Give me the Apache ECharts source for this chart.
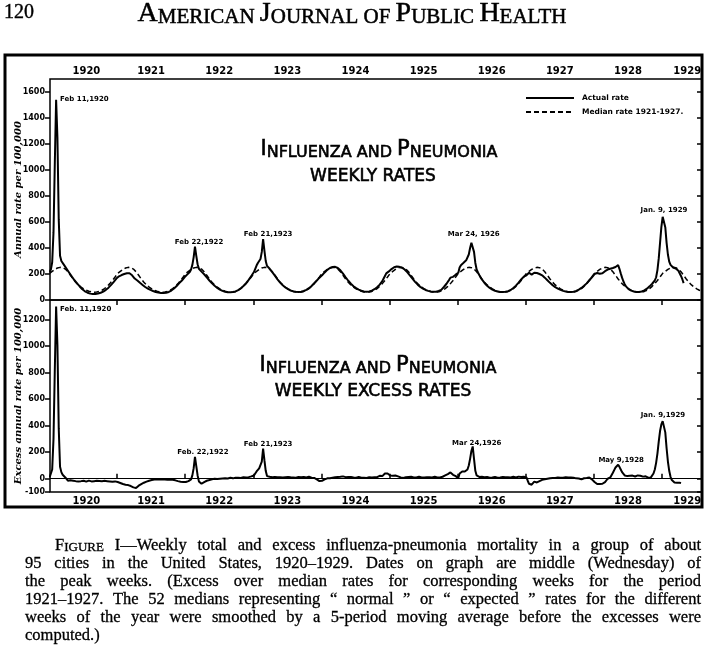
<!DOCTYPE html>
<html><head><meta charset="utf-8">
<script src="https://cdn.jsdelivr.net/npm/echarts@6/dist/echarts.min.js"></script>
<style>html,body{margin:0;padding:0;background:#fff}#c{width:709px;height:646px}</style>
</head><body><div id="c"></div>
<script>
// ---------------- DATA ----------------
const years = [1920,1921,1922,1923,1924,1925,1926,1927,1928,1929];
const yearTicks = [1921,1922,1923,1924,1925,1926,1927,1928,1929];
const yearLabelValues = [1920.55,1921.5,1922.5,1923.5,1924.5,1925.5,1926.5,1927.5,1928.5,1929.37];
const topTickValues = [0,200,400,600,800,1000,1200,1400,1600];
const bottomTickValues = [-100,0,200,400,600,800,1000,1200];

// 52 smoothed weekly medians 1921-1927 (repeated every year)
const medianRate = [205,212,220,228,235,241,246,249,251,251,249,245,238,228,217,204,190,176,162,149,137,126,116,107,99,92,86,80,75,71,67,64,62,61,60,60,61,63,66,70,75,81,88,96,105,115,126,138,150,163,177,191];
const medianWeeks1929 = 31;

// weekly actual rates
const actual1920 = [215,235,290,520,1050,1540,1250,620,340,300,285,270,255,240,225,210,195,180,165,152,140,128,116,104,93,83,74,67,61,56,52,49,47,46,46,47,48,50,53,56,60,65,71,78,86,95,105,116,128,140,152,165];
const actual1921 = [175,182,188,192,196,200,203,206,208,206,200,190,178,165,158,150,140,132,124,116,108,100,94,88,83,78,73,69,65,62,59,57,55,54,53,53,54,56,58,62,67,73,80,88,97,107,118,130,140,150,162,175];
const actual1922 = [185,195,205,215,235,270,330,410,340,275,240,228,218,208,198,186,174,162,150,139,128,118,109,101,93,86,80,75,70,66,63,61,60,59,59,60,61,63,66,70,76,82,90,99,108,118,130,142,155,170,185,200];
const actual1923 = [215,240,265,285,300,315,370,469,380,300,262,250,240,228,215,201,187,173,159,146,134,123,113,104,96,89,83,78,73,69,66,64,63,62,62,63,64,66,69,73,78,84,91,99,108,118,129,140,150,160,172,185];
const actual1924 = [190,200,212,222,232,240,246,250,254,256,255,252,246,238,228,216,203,189,175,161,148,136,125,115,106,98,91,85,80,75,71,68,66,65,64,65,66,68,72,77,83,90,98,107,118,130,145,165,185,205,215,220];
const actual1925 = [228,238,246,252,256,258,257,255,252,248,242,235,226,215,203,190,177,164,151,139,128,118,109,101,94,88,82,77,73,70,67,65,64,63,63,64,66,69,73,78,90,100,112,125,140,155,172,180,178,185,195,200];
const actual1926 = [210,250,268,280,286,295,305,318,350,400,440,449,370,285,235,212,192,174,158,144,131,120,110,101,93,86,80,75,71,68,65,63,62,61,61,62,63,65,68,72,77,84,92,100,110,121,133,146,158,170,180,188];
const actual1927 = [190,200,210,205,195,200,210,212,208,205,200,195,190,182,172,162,152,142,132,123,114,106,99,93,87,82,78,74,70,67,65,63,62,61,61,62,64,66,70,74,80,86,93,100,109,118,128,140,152,165,175,185];
const actual1928 = [200,205,208,205,202,200,205,212,222,230,234,236,240,243,246,250,254,258,268,240,205,172,144,122,105,93,84,77,72,68,65,63,62,61,62,64,66,70,74,80,87,95,105,116,125,135,150,175,230,320,440,560];
const actual1929 = [640,654,560,440,350,295,270,258,250,245,242,235,225,210,185,160,130];

// weekly excess rates
const excess1920 = [10,25,70,300,820,1300,1010,380,90,50,30,20,10,-5,-15,-18,-12,-20,-15,-22,-18,-15,-20,-12,-18,-20,-15,-18,-22,-16,-14,-18,-20,-15,-18,-14,-16,-20,-17,-15,-18,-20,-16,-14,-18,-22,-20,-16,-22,-25,-20,-28];
const excess1921 = [-25,-30,-32,-35,-40,-42,-45,-45,-48,-52,-55,-60,-65,-72,-70,-62,-52,-45,-40,-35,-30,-26,-22,-18,-15,-12,-10,-8,-6,-8,-5,-6,-4,-7,-5,-3,-6,-4,-8,-5,-6,-9,-7,-10,-12,-15,-18,-20,-22,-25,-24,-22];
const excess1922 = [-25,-22,-18,-15,-5,25,80,165,95,25,-20,-35,-38,-32,-25,-20,-15,-12,-10,-6,-4,-2,0,3,-2,2,0,4,2,5,3,6,2,4,7,5,3,6,8,5,7,10,6,8,12,9,10,14,12,15,18,22];
const excess1923 = [25,40,55,70,78,82,130,228,140,60,20,12,15,10,12,8,14,10,12,9,11,14,10,8,12,10,13,9,11,14,10,12,8,11,13,9,12,10,14,11,9,12,15,10,8,12,6,2,-5,-12,-18,-20];
const excess1924 = [-15,-10,-5,0,3,5,4,6,8,10,12,10,14,12,15,12,18,14,12,16,13,10,14,11,9,12,8,10,13,9,7,10,8,11,6,9,12,8,10,14,11,16,12,18,22,16,20,30,40,48,40,30];
const excess1925 = [25,18,22,25,24,22,18,15,10,8,6,10,12,8,14,11,15,12,10,14,9,12,15,11,9,13,10,8,12,9,11,14,10,12,15,11,9,13,10,12,15,20,25,30,35,42,48,45,30,25,20,12];
const excess1926 = [5,40,50,55,52,55,60,70,100,150,210,244,150,60,25,18,14,12,15,10,12,9,13,10,8,12,9,11,14,10,8,12,9,11,13,10,12,8,11,14,10,12,15,11,9,13,16,12,14,18,15,10];
const excess1927 = [10,-15,-38,-52,-45,-30,-22,-20,-28,-25,-18,-12,-8,-6,-4,-2,0,2,4,3,6,8,5,7,9,6,8,10,7,9,12,8,10,7,9,6,8,5,3,6,2,-2,-5,0,4,2,5,8,10,5,-5,-15];
const excess1928 = [-25,-35,-40,-38,-40,-36,-38,-35,-25,-10,0,5,10,25,45,65,85,100,106,90,70,50,35,25,18,20,16,22,18,24,20,17,22,25,19,23,20,16,21,18,12,8,5,10,25,40,70,120,190,280,360,410];
const excess1929 = [435,445,350,230,130,60,15,-10,-22,-28,-32,-30,-26,-30,-33];

// peak annotations
const topPeakYears = [1920,1922,1923,1926,1929];
const topPeakWeeks = [5,7,7,11,1];
const topPeakTexts = ['Feb 11,1920','Feb 22,1922','Feb 21,1923','Mar 24, 1926','Jan. 9, 1929'];
const bottomPeakYears = [1920,1922,1923,1926,1928,1929];
const bottomPeakWeeks = [5,7,7,11,18,1];
const bottomPeakTexts = ['Feb. 11,1920','Feb. 22,1922','Feb 21,1923','Mar 24,1926','May 9,1928','Jan. 9,1929'];

const legendNames = ['Actual rate','Median rate 1921-1927.'];
const captionLines = [
 'FIGURE I\u2014Weekly total and excess influenza-pneumonia mortality in a group of about',
 '95 cities in the United States, 1920\u20131929.  Dates on graph are middle (Wednesday) of',
 'the peak weeks.  (Excess over median rates for corresponding weeks for the period',
 '1921\u20131927.  The 52 medians representing \u201c normal \u201d or \u201c expected \u201d rates for the different',
 'weeks of the year were smoothed by a 5-period moving average before the excesses were',
 'computed.)'
];

// ---------------- BUILD ----------------
const actualByYear = [actual1920,actual1921,actual1922,actual1923,actual1924,actual1925,actual1926,actual1927,actual1928,actual1929];
const excessByYear = [excess1920,excess1921,excess1922,excess1923,excess1924,excess1925,excess1926,excess1927,excess1928,excess1929];
function weekTime(y,w){ return y + (w + 0.5) / 52; }
function toPoints(arrs){ const out=[]; arrs.forEach((a,i)=>a.forEach((v,w)=>out.push([weekTime(years[i],w), v]))); return out; }
const actualPoints = toPoints(actualByYear);
const excessPoints = toPoints(excessByYear);
const medianPoints = [];
years.forEach(y=>{ const n = y===1929 ? medianWeeks1929 : 52; for(let w=0;w<n;w++) medianPoints.push([weekTime(y,w), medianRate[w]]); });

const topOffsets = [[2,-1,'right'],[4,1,'top'],[5,1,'top'],[1,-2,'top'],[0,1,'top']];
const bottomOffsets = [[2,3,'right'],[8,1,'top'],[5,1,'top'],[4,2,'top'],[3,1,'top'],[-1,1,'top']];
const annFont = {fontSize:7, fontWeight:'bold', color:'#000', fontFamily:'DejaVu Sans'};
function peakMarks(ys, ws, texts, byYear, offs){
  return ys.map((y,i)=>({
    coord:[weekTime(y, ws[i]), byYear[y-1920][ws[i]]],
    symbol:'circle', symbolSize:0,
    label:Object.assign({show:true, formatter:texts[i], position:offs[i][2], offset:[offs[i][0],offs[i][1]], distance:2}, annFont)
  }));
}

// caption layout (justified)
const mctx = document.createElement('canvas').getContext('2d');
const capFam = '"Liberation Serif", serif';
const capSize = 16.5, capSmall = 13;
function mw(t,s){ mctx.font = s+'px '+capFam; return mctx.measureText(t).width; }
const captionGraphics = [];
const capTop = 546, capLH = 18;
captionLines.forEach((line,li)=>{
  const words = line.split(' ').filter(s=>s.length);
  const left = li===0 ? 55 : 25, right = 701;
  const widths = words.map(w=> w==='FIGURE' ? mw('F',capSize)+mw('IGURE',capSmall) : mw(w,capSize));
  const sum = widths.reduce((a,b)=>a+b,0);
  const last = li===captionLines.length-1;
  const gap = last ? mw(' ',capSize) : (right-left-sum)/(words.length-1);
  let x = left;
  words.forEach((w,wi)=>{
    const el = {type:'text', x:x, y:capTop+li*capLH, style:{fill:'#000', fontFamily:capFam, fontSize:capSize, verticalAlign:'middle', align:'left', stroke:'#000', lineWidth:0.3}};
    if (w==='FIGURE'){
      el.style.text = '{a|F}{b|IGURE}';
      el.style.rich = {a:{fontSize:capSize,fontFamily:capFam,verticalAlign:'bottom',fill:'#000'}, b:{fontSize:capSmall,fontFamily:capFam,verticalAlign:'bottom',fill:'#000'}};
    } else el.style.text = w;
    captionGraphics.push(el);
    x += widths[wi] + gap;
  });
});

const titleRich = {
  b:{fontSize:21, fontFamily:'DejaVu Sans', verticalAlign:'bottom', fill:'#000', stroke:'#000', lineWidth:0.6},
  s:{fontSize:16, fontFamily:'DejaVu Sans', verticalAlign:'bottom', fill:'#000', stroke:'#000', lineWidth:0.6}
};
function titleText(x,y,text,size){
  return {type:'text', x:x, y:y, style:{text:text, rich:titleRich, fontSize:size, fontFamily:'DejaVu Sans', fill:'#000', align:'center', verticalAlign:'middle'}};
}

const chart = echarts.init(document.getElementById('c'), null, {renderer:'canvas'});
const axisBase = {type:'value', splitLine:{show:false}, axisLine:{show:false}};
const xCommon = (gi,pos,margin)=>Object.assign({}, axisBase, {
  gridIndex:gi, position:pos, min:1920.016, max:1929.587,
  axisTick:{show:true, inside:true, length:5, customValues:yearTicks, lineStyle:{color:'#000', width:1.5}},
  axisLabel:{customValues:yearLabelValues, formatter:v=>String(Math.floor(v)), fontSize:10, fontWeight:'bold', fontFamily:'DejaVu Sans', color:'#000', margin:margin}
});
const yCommon = (gi,pos,min,max,ticks,showLabel,name)=>Object.assign({}, axisBase, {
  gridIndex:gi, position:pos, min:min, max:max,
  axisTick:{show:true, inside:pos==='right', length:5, customValues:ticks, lineStyle:{color:'#000', width:1.5}},
  axisLabel:{show:showLabel, customValues:ticks, formatter:v=>String(v), fontSize:8, fontWeight:'bold', fontFamily:'DejaVu Sans', color:'#000', margin:5},
  name:name||'', nameLocation:'middle', nameGap:27, nameRotate:90, nameMoveOverlap:false,
  nameTextStyle:{fontStyle:'italic', fontWeight:'bold', fontFamily:'DejaVu Serif', fontSize:10, color:'#000'}
});

const solidIcon = 'path://M0,0h48v2h-48z';
const dashIcon = 'path://M0,0h5v2h-5z M8,0h5v2h-5z M16,0h5v2h-5z M24,0h5v2h-5z M32,0h5v2h-5z M40,0h5v2h-5z M48,0h0.01v2h-0.01z';

chart.setOption({
  animation:false,
  backgroundColor:'#fff',
  grid:[
    {left:50, top:79, width:652, height:221, show:true, borderColor:'#000', borderWidth:1.5, backgroundColor:'transparent'},
    {left:50, top:300, width:652, height:192, show:true, borderColor:'#000', borderWidth:1.5, backgroundColor:'transparent'}
  ],
  xAxis:[xCommon(0,'top',3), xCommon(1,'bottom',4)],
  yAxis:[
    yCommon(0,'left',0,1700,topTickValues,true,'Annual rate per 100,000'),
    yCommon(0,'right',0,1700,topTickValues,false),
    yCommon(1,'left',-100,1349,bottomTickValues,true,'Excess annual rate per 100,000'),
    yCommon(1,'right',-100,1349,bottomTickValues,false)
  ],
  legend:{data:[{name:legendNames[0], icon:solidIcon},{name:legendNames[1], icon:dashIcon}],
    orient:'vertical', left:526, top:94, padding:0, itemWidth:48, itemHeight:2, itemGap:6,
    itemStyle:{color:'#000', borderWidth:0},
    textStyle:{fontSize:7.5, fontWeight:'bold', fontFamily:'DejaVu Sans', color:'#000', padding:[0,0,0,3]}},
  series:[
    {type:'line', name:legendNames[0], xAxisIndex:0, yAxisIndex:0, data:actualPoints, symbol:'none',
     lineStyle:{color:'#000', width:2}, itemStyle:{color:'#000'}, z:3,
     markPoint:{silent:true, data:peakMarks(topPeakYears, topPeakWeeks, topPeakTexts, actualByYear, topOffsets)}},
    {type:'line', name:legendNames[1], xAxisIndex:0, yAxisIndex:0, data:medianPoints, symbol:'none',
     lineStyle:{color:'#000', width:1.5, type:[5,3]}, itemStyle:{color:'#000'}, z:2},
    {type:'line', name:'Excess rate', xAxisIndex:1, yAxisIndex:2, data:excessPoints, symbol:'none',
     lineStyle:{color:'#000', width:2}, itemStyle:{color:'#000'},
     markLine:{silent:true, symbol:'none', label:{show:false}, lineStyle:{color:'#000', type:'solid', width:1.2}, data:[{yAxis:0}]},
     markPoint:{silent:true, data:peakMarks(bottomPeakYears, bottomPeakWeeks, bottomPeakTexts, excessByYear, bottomOffsets)}}
  ],
  graphic:[
    {type:'rect', shape:{x:5, y:55, width:697, height:452}, style:{fill:'none', stroke:'#000', lineWidth:3}},
    {type:'text', x:4, y:13, style:{text:'120', fontFamily:capFam, fontSize:20, fill:'#000', verticalAlign:'middle', stroke:'#000', lineWidth:0.4}},
    {type:'text', x:352, y:14, style:{text:'{a|A}{b|MERICAN }{a|J}{b|OURNAL OF }{a|P}{b|UBLIC }{a|H}{b|EALTH}',
      rich:{a:{fontSize:28,fontFamily:capFam,verticalAlign:'bottom',fill:'#000',stroke:'#000',lineWidth:0.5}, b:{fontSize:21,fontFamily:capFam,verticalAlign:'bottom',fill:'#000',stroke:'#000',lineWidth:0.5}},
      align:'center', verticalAlign:'middle'}},
    titleText(379,150,'{b|I}{s|NFLUENZA AND }{b|P}{s|NEUMONIA}',16),
    {type:'text', x:373, y:177, style:{text:'WEEKLY RATES', fontSize:17, fontFamily:'DejaVu Sans', fill:'#000', align:'center', verticalAlign:'middle', stroke:'#000', lineWidth:0.6}},
    titleText(378,366,'{b|I}{s|NFLUENZA AND }{b|P}{s|NEUMONIA}',16),
    {type:'text', x:373, y:392, style:{text:'WEEKLY EXCESS RATES', fontSize:17, fontFamily:'DejaVu Sans', fill:'#000', align:'center', verticalAlign:'middle', stroke:'#000', lineWidth:0.6}}
  ].concat(captionGraphics)
});
</script></body></html>
